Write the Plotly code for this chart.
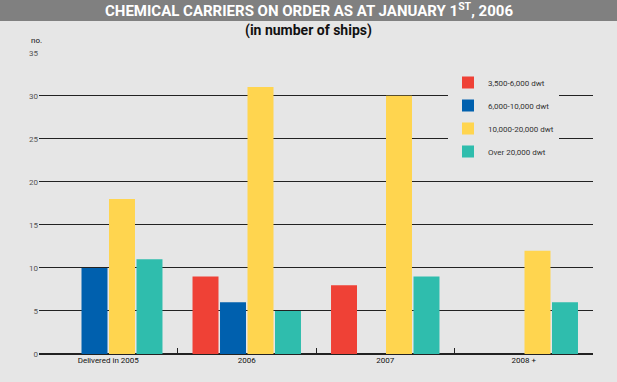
import plotly.graph_objects as go

categories = ["Delivered in 2005", "2006", "2007", "2008 +"]
series_names = ["3,500-6,000 dwt", "6,000-10,000 dwt", "10,000-20,000 dwt", "Over 20,000 dwt"]
vals_small = [0, 9, 8, 0]
vals_medium = [10, 6, 0, 0]
vals_large = [18, 31, 30, 12]
vals_over = [11, 5, 9, 6]
colors = ["#ef4136", "#0060ae", "#ffd54f", "#2fbdad"]
y_ticks = [0, 5, 10, 15, 20, 25, 30, 35]

BG = "#e6e6e6"
W, H = 617, 382
ML, MR, MT, MB = 39, 24, 52, 28
plot_h = H - MT - MB
plot_w = W - ML - MR

def py(px):
    return (H - MB - px) / plot_h

def pxx(px):
    return (px - ML) / plot_w

fig = go.Figure()
for name, vals, c in zip(series_names, [vals_small, vals_medium, vals_large, vals_over], colors):
    fig.add_trace(go.Bar(x=categories, y=vals, name=name, marker=dict(color=c, line=dict(width=0)),
                         legendgroup=name))

fig.update_layout(
    width=W, height=H,
    paper_bgcolor=BG, plot_bgcolor=BG,
    margin=dict(l=ML, r=MR, t=MT, b=MB, pad=0),
    barmode="group", bargap=0.206, bargroupgap=0.055,
    font=dict(family="Roboto", size=8, color="#222"),
    showlegend=True,
    legend=dict(x=pxx(448), y=py(68), xanchor="left", yanchor="top",
                bgcolor=BG, font=dict(size=8, color="#333"),
                traceorder="grouped", tracegroupgap=4, itemwidth=30),
    xaxis=dict(showgrid=False, showline=False, ticks="inside", tickson="boundaries",
               ticklen=6, tickwidth=1, tickcolor="#222", zeroline=False,
               tickfont=dict(size=8, color="#111")),
    yaxis=dict(range=[0, 35.08], tickvals=y_ticks, showgrid=True, gridcolor="#222", gridwidth=1,
               zeroline=True, zerolinecolor="#222", zerolinewidth=2, showline=False,
               ticks="", tickfont=dict(size=8, color="#555")),
    annotations=[
        dict(text=" ", xref="paper", yref="paper",
             x=pxx(308.5), y=py(10.5), xanchor="center", yanchor="middle", showarrow=False,
             width=W + 4, height=21, bgcolor="#808080", borderpad=0, borderwidth=0),
        dict(text="CHEMICAL CARRIERS ON ORDER AS AT JANUARY 1<sup>ST</sup>, 2006", xref="paper", yref="paper",
             x=pxx(309), y=py(10.5), xanchor="center", yanchor="middle", showarrow=False,
             font=dict(family="Roboto", size=15, color="white", weight="bold")),
        dict(text="(in number of ships)", xref="paper", yref="paper",
             x=pxx(308), y=py(31), xanchor="center", yanchor="middle", showarrow=False,
             font=dict(family="Roboto", size=14, color="#111", weight="bold")),
        dict(text="no.", xref="paper", yref="paper", x=pxx(29), y=py(40), xanchor="left",
             yanchor="middle", showarrow=False, font=dict(size=8, color="#111")),
    ],
)

fig.write_html("out.html", config={"displayModeBar": False},
               post_script="document.body.style.margin='0';")
